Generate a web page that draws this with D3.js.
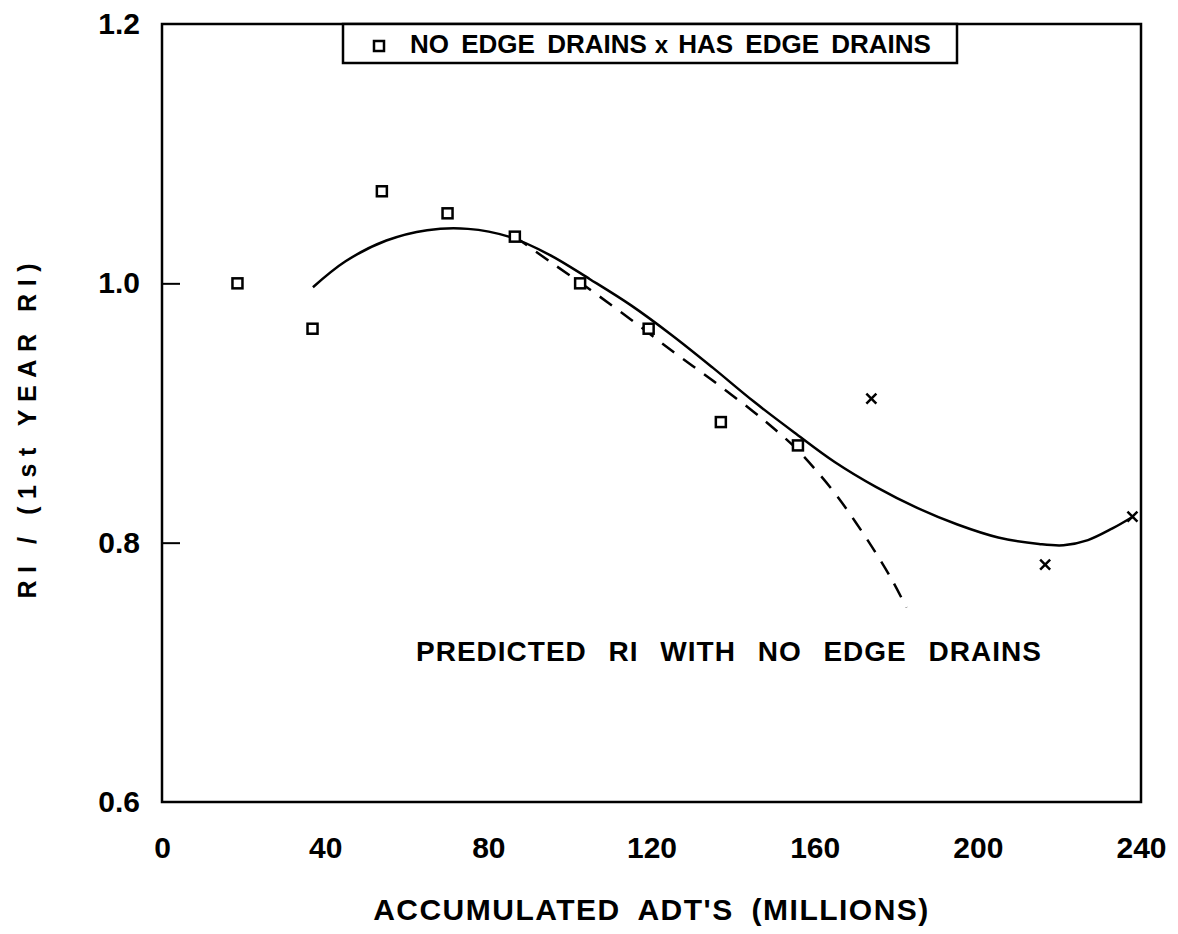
<!DOCTYPE html>
<html><head><meta charset="utf-8">
<script src="https://cdn.jsdelivr.net/npm/d3@7"></script>
<style>
html,body{margin:0;padding:0;background:#fff;}
svg{display:block;}
text{font-family:"Liberation Sans",Arial,Helvetica,sans-serif;font-weight:bold;fill:#000;}
</style></head><body>
<svg id="chart" width="1178" height="934"></svg>
<script>
// Axis ticks
const xTicks = [0, 40, 80, 120, 160, 200, 240];
const yTicks = [0.6, 0.8, 1.0, 1.2];

// Sections without edge drains (squares)
const noDrainX = [18.5, 36.9, 53.9, 70.0, 86.5, 102.5, 119.3, 137.0, 155.9];
const noDrainY = [1.000, 0.965, 1.071, 1.054, 1.036, 1.000, 0.965, 0.893, 0.875];

// Sections with edge drains (crosses)
const drainX = [173.9, 216.5, 237.9];
const drainY = [0.911, 0.783, 0.820];

// Fitted trend through all sections (solid)
const fitX = [37, 45, 55, 65, 75, 85, 95, 105, 115, 125, 135, 145, 155, 165, 175, 185, 195, 205, 215, 221, 227, 233, 238];
const fitY = [0.997, 1.017, 1.033, 1.041, 1.042, 1.036, 1.022, 1.003, 0.983, 0.960, 0.935, 0.909, 0.885, 0.862, 0.843, 0.827, 0.814, 0.804, 0.799, 0.798, 0.802, 0.811, 0.820];

// Predicted RI with no edge drains (dashed)
const predX = [86.5, 95, 105, 115, 125, 135, 145, 150, 155, 160, 165, 170, 175, 179, 182.5];
const predY = [1.036, 1.017, 0.995, 0.972, 0.948, 0.925, 0.901, 0.888, 0.874, 0.857, 0.838, 0.816, 0.792, 0.771, 0.750];

const svg = d3.select("#chart");
const L = 162, R = 1141, T = 24, B = 802;
const x = d3.scaleLinear().domain([0, 240]).range([L, R]);
const y = d3.scaleLinear().domain([0.6, 1.2]).range([B, T]);
const font = '"Liberation Sans",Arial,Helvetica,sans-serif';

// Y axis: inward ticks, bold labels
const yAxis = svg.append("g").attr("transform", `translate(${L},0)`)
  .call(d3.axisLeft(y).tickValues(yTicks).tickFormat(d3.format(".1f")).tickSize(-18).tickPadding(22));
yAxis.select(".domain").remove();
yAxis.selectAll(".tick line").attr("stroke", "#000").attr("stroke-width", 2)
  .filter(d => d === 0.6 || d === 1.2).remove();
yAxis.selectAll("text").style("font-size", "30px").style("font-family", font).style("font-weight", "bold");

// X axis labels
const xAxis = svg.append("g").attr("transform", `translate(0,${B})`)
  .call(d3.axisBottom(x).tickValues(xTicks).tickFormat(d3.format("d")).tickSize(0).tickPadding(35));
xAxis.select(".domain").remove();
xAxis.selectAll("text").style("font-size", "30px").style("font-family", font).style("font-weight", "bold");

// Plot frame
svg.append("rect").attr("x", L).attr("y", T).attr("width", R - L).attr("height", B - T)
  .attr("fill", "none").attr("stroke", "#000").attr("stroke-width", 2.5);

const line = d3.line().x(d => x(d[0])).y(d => y(d[1])).curve(d3.curveCatmullRom.alpha(0.5));

svg.append("path").datum(fitX.map((v, i) => [v, fitY[i]]))
  .attr("d", line).attr("fill", "none").attr("stroke", "#000").attr("stroke-width", 2.5);

svg.append("path").datum(predX.map((v, i) => [v, predY[i]]))
  .attr("d", line).attr("fill", "none").attr("stroke", "#000").attr("stroke-width", 2.5)
  .attr("stroke-dasharray", "15,11");

// Squares
svg.append("g").selectAll("rect").data(noDrainX.map((v, i) => [v, noDrainY[i]]))
  .join("rect")
  .attr("x", d => x(d[0]) - 5).attr("y", d => y(d[1]) - 5)
  .attr("width", 10).attr("height", 10)
  .attr("fill", "#fff").attr("stroke", "#000").attr("stroke-width", 2.5);

// Crosses
svg.append("g").selectAll("path").data(drainX.map((v, i) => [v, drainY[i]]))
  .join("path")
  .attr("d", d => {
    const cx = x(d[0]), cy = y(d[1]);
    return `M${cx-5},${cy-5}L${cx+5},${cy+5}M${cx-5},${cy+5}L${cx+5},${cy-5}`;
  })
  .attr("stroke", "#000").attr("stroke-width", 2.5).attr("fill", "none");

// Legend
svg.append("rect").attr("x", 343).attr("y", T).attr("width", 614).attr("height", 39)
  .attr("fill", "#fff").attr("stroke", "#000").attr("stroke-width", 2.5);
svg.append("rect").attr("x", 374).attr("y", 41).attr("width", 10).attr("height", 10)
  .attr("fill", "#fff").attr("stroke", "#000").attr("stroke-width", 2.5);
const lg1 = svg.append("text").attr("x", 410).attr("y", 53)
  .style("font-size", "26px").style("word-spacing", "5px").text("NO EDGE DRAINS");
const x1 = 410 + lg1.node().getComputedTextLength() + 8;
const lgx = svg.append("text").attr("x", x1).attr("y", 53).style("font-size", "24px").text("x");
const x2 = x1 + lgx.node().getComputedTextLength() + 10;
svg.append("text").attr("x", x2).attr("y", 53)
  .style("font-size", "26px").style("word-spacing", "5px").text("HAS EDGE DRAINS");

// Annotation for the dashed curve
svg.append("text").attr("x", 416).attr("y", 661)
  .style("font-size", "28px").style("letter-spacing", "1px").style("word-spacing", "13px")
  .text("PREDICTED RI WITH NO EDGE DRAINS");

// Axis titles
svg.append("text").attr("x", (L + R) / 2).attr("y", 920).attr("text-anchor", "middle")
  .style("font-size", "30px").style("letter-spacing", "1.5px").style("word-spacing", "8px")
  .text("ACCUMULATED ADT'S (MILLIONS)");
svg.append("text").attr("transform", `translate(36,431) rotate(-90)`).attr("text-anchor", "middle")
  .style("font-size", "25px").attr("textLength", 335).attr("lengthAdjust", "spacing")
  .text("RI / (1st YEAR RI)");
</script>
</body></html>
